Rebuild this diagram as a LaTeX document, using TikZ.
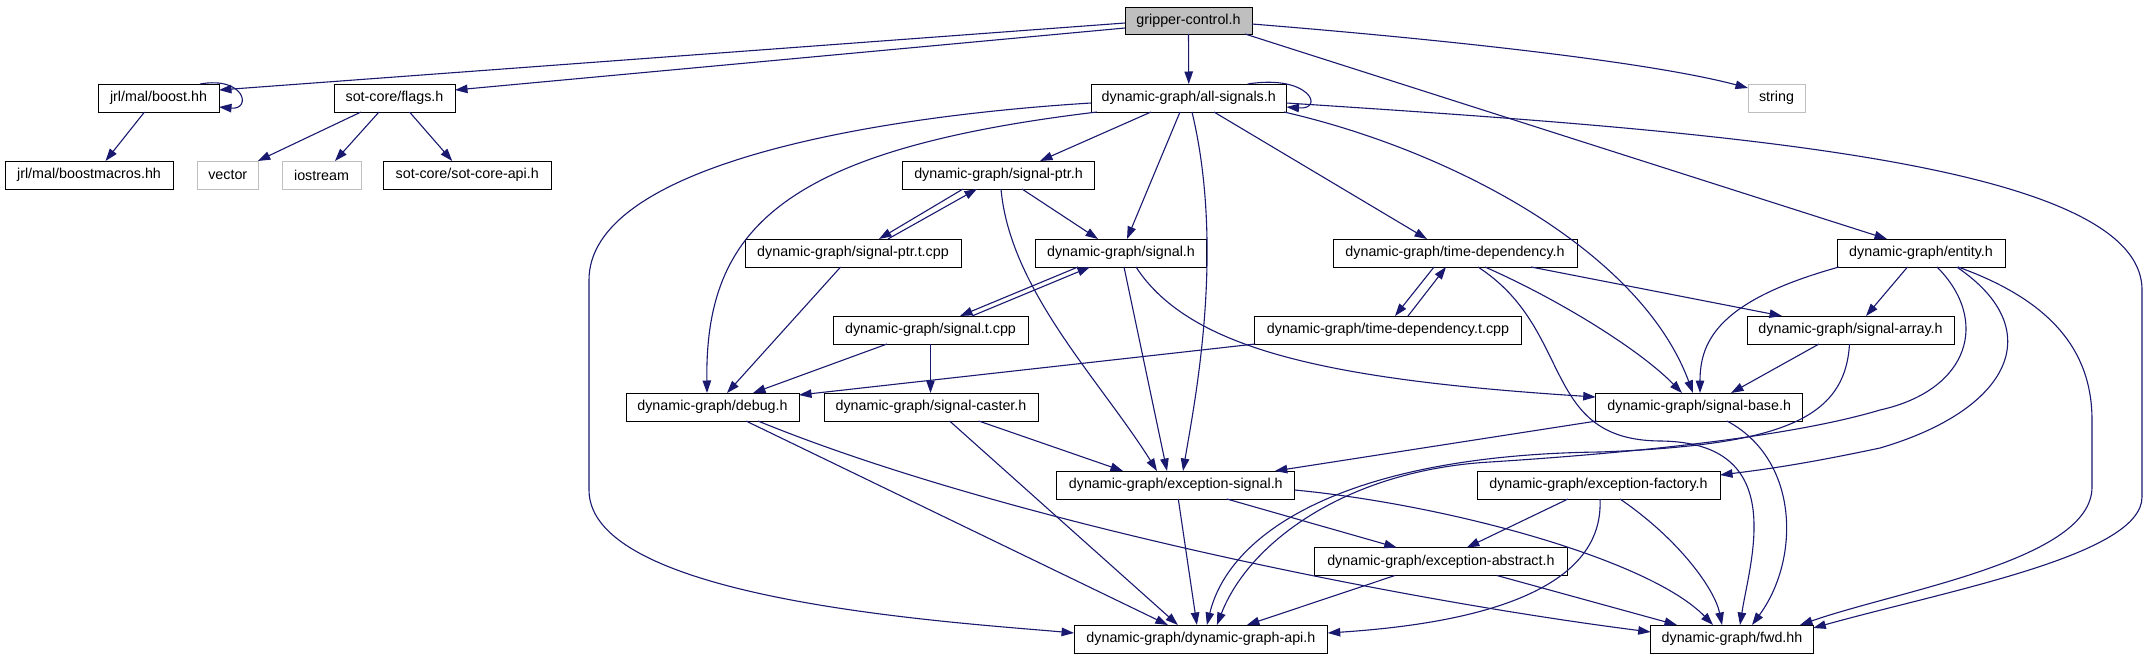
\documentclass[tikz,border=0pt]{standalone}
\usepackage{fontspec}
\setmainfont{Liberation Sans}
\usetikzlibrary{arrows.meta}
\definecolor{edgec}{HTML}{191970}
\definecolor{gfill}{HTML}{BFBFBF}
\begin{document}
\begin{tikzpicture}[x=1pt,y=-1pt,
  box/.style={draw=black, line width=1pt, rectangle, inner sep=0pt, outer sep=0pt, minimum height=28pt, font=\fontsize{14.3}{17}\selectfont},
  gbox/.style={box, draw=gfill},
  edge/.style={draw=edgec, line width=1.1pt, -{Triangle[length=12.5pt,width=8.5pt]}}]
\useasboundingbox (0,0) rectangle (2148,659);
\fill[white] (0,0) rectangle (2148,659);
% nodes
\node[box, fill=gfill, minimum width=127pt, minimum height=27pt] (gc) at (1188.5,20.5) {gripper-control.h};
\node[box, minimum width=121pt] (boost) at (158.5,98) {jrl/mal/boost.hh};
\node[box, minimum width=121pt] (flags) at (394.5,98) {sot-core/flags.h};
\node[box, minimum width=195.5pt] (as) at (1188.75,98) {dynamic-graph/all-signals.h};
\node[gbox, minimum width=57pt] (string) at (1776.5,98) {string};
\node[box, minimum width=168pt] (boostmacros) at (89,175) {jrl/mal/boostmacros.hh};
\node[gbox, minimum width=61.5pt] (vector) at (227.75,175) {vector};
\node[gbox, minimum width=79pt] (iostream) at (321.5,175) {iostream};
\node[box, minimum width=168.5pt] (sotapi) at (467.25,175) {sot-core/sot-core-api.h};
\node[box, minimum width=192pt] (sigptr) at (998.5,175) {dynamic-graph/signal-ptr.h};
\node[box, minimum width=216pt] (sigptrt) at (853,253) {dynamic-graph/signal-ptr.t.cpp};
\node[box, minimum width=171pt] (signal) at (1121,253) {dynamic-graph/signal.h};
\node[box, minimum width=244pt] (timedep) at (1455,253) {dynamic-graph/time-dependency.h};
\node[box, minimum width=168pt] (entity) at (1921,253) {dynamic-graph/entity.h};
\node[box, minimum width=195pt] (signalt) at (930.5,330) {dynamic-graph/signal.t.cpp};
\node[box, minimum width=267.5pt] (timedept) at (1388,330) {dynamic-graph/time-dependency.t.cpp};
\node[box, minimum width=207pt] (sigarray) at (1850.5,330) {dynamic-graph/signal-array.h};
\node[box, minimum width=173pt] (debug) at (712.5,407) {dynamic-graph/debug.h};
\node[box, minimum width=214pt] (caster) at (931,407) {dynamic-graph/signal-caster.h};
\node[box, minimum width=207pt] (sigbase) at (1699.2,407) {dynamic-graph/signal-base.h};
\node[box, minimum width=238pt] (excsig) at (1175.8,485) {dynamic-graph/exception-signal.h};
\node[box, minimum width=243pt] (excfac) at (1598.5,485) {dynamic-graph/exception-factory.h};
\node[box, minimum width=253.7pt] (excabs) at (1440.9,561.5) {dynamic-graph/exception-abstract.h};
\node[box, minimum width=253.7pt] (api) at (1200.9,639) {dynamic-graph/dynamic-graph-api.h};
\node[box, minimum width=162.6pt] (fwd) at (1732,639) {dynamic-graph/fwd.hh};
% edges from gripper-control.h
\draw[edge] ([yshift=-2.5pt]gc.west) -- ([yshift=8pt]boost.east);
\draw[edge] ([yshift=-7.5pt]gc.west) -- ([yshift=8pt]flags.east);
\draw[edge] (gc.south) -- (as.north);
\draw[edge] ([yshift=-3.5pt]gc.east) .. controls (1450,40) and (1650,62) .. ([yshift=10pt]string.west);
\draw[edge] ([xshift=56.5pt]gc.south) -- ([xshift=-34pt]entity.north);
% boost
\draw[edge] ([xshift=41.5pt]boost.north) .. controls (245,76) and (252,110) .. ([yshift=-9pt]boost.east);
\draw[edge] ([xshift=-14pt]boost.south) -- ([xshift=16.5pt]boostmacros.north);
% flags
\draw[edge] ([xshift=-33.5pt]flags.south) -- ([xshift=30pt]vector.north);
\draw[edge] ([xshift=-15.5pt]flags.south) -- ([xshift=13.5pt]iostream.north);
\draw[edge] ([xshift=15pt]flags.south) -- ([xshift=-15pt]sotapi.north);
% all-signals
\draw[edge] ([xshift=59pt]as.north) .. controls (1310,74) and (1325,110) .. ([yshift=-9pt]as.east);
\draw[edge] ([xshift=-37.75pt]as.south) -- ([xshift=41.5pt]sigptr.north);
\draw[edge] ([xshift=-8.75pt]as.south) -- ([xshift=6pt]signal.north);
\draw[edge] ([xshift=3.25pt]as.south) .. controls (1225,250) and (1195,400) .. ([xshift=7.2pt]excsig.north);
\draw[edge] ([xshift=25.25pt]as.south) -- ([xshift=-28pt]timedep.north);
\draw[edge] ([xshift=95.25pt]as.south) .. controls (1450,150) and (1640,250) .. ([xshift=-6.2pt]sigbase.north);
\draw[edge] ([yshift=-5pt]as.east) .. controls (1700,130) and (2142,160) .. (2142,290) -- (2142,497) .. controls (2142,555) and (1950,590) .. ([yshift=11pt]fwd.east);
\draw[edge] ([xshift=-91.75pt]as.south) .. controls (780,150) and (705,230) .. ([xshift=-5.5pt]debug.north);
\draw[edge] ([yshift=-5pt]as.west) .. controls (850,118) and (589,170) .. (589,280) -- (589,490) .. controls (589,600) and (950,622) .. ([yshift=6pt]api.west);
% signal-ptr
\draw[edge] ([xshift=-35.5pt]sigptr.south) -- ([xshift=26pt]sigptrt.north);
\draw[edge] ([xshift=35pt]sigptrt.north) -- ([xshift=-21.5pt]sigptr.south);
\draw[edge] ([xshift=23.5pt]sigptr.south) -- ([xshift=-23pt]signal.north);
\draw[edge] ([xshift=2.5pt]sigptr.south) .. controls (1010,290) and (1100,380) .. ([xshift=-18.8pt]excsig.north);
\draw[edge] ([xshift=-12.4pt]sigptrt.south) -- ([xshift=14.5pt]debug.north);
% signal
\draw[edge] ([xshift=-43pt]signal.south) -- ([xshift=29.5pt]signalt.north);
\draw[edge] ([xshift=41.5pt]signalt.north) -- ([xshift=-31pt]signal.south);
\draw[edge] ([xshift=3pt]signal.south) -- ([xshift=-8.8pt]excsig.north);
\draw[edge] ([xshift=15pt]signal.south) .. controls (1190,350) and (1330,380) .. ([yshift=10pt]sigbase.west);
\draw[edge] ([xshift=-43.5pt]signalt.south) -- ([xshift=40.5pt]debug.north);
\draw[edge] (signalt.south) -- ([xshift=-0.5pt]caster.north);
% time-dependency
\draw[edge] ([xshift=-21pt]timedep.south) -- ([xshift=7pt]timedept.north);
\draw[edge] ([xshift=20pt]timedept.north) -- ([xshift=-9pt]timedep.south);
\draw[edge] ([xshift=1pt]timedept.south west) -- ([yshift=-2pt]debug.north east);
\draw[edge] ([xshift=76pt]timedep.south) -- ([xshift=-68.5pt]sigarray.north);
\draw[edge] ([xshift=30pt]timedep.south) .. controls (1560,300) and (1640,350) .. ([xshift=-17.2pt]sigbase.north);
\draw[edge] ([xshift=23pt]timedep.south) .. controls (1575,330) and (1540,440) .. (1660,441) .. controls (1790,442) and (1750,560) .. ([xshift=8pt]fwd.north);
% entity
\draw[edge] ([xshift=-13.5pt]entity.south) -- ([xshift=15.5pt]sigarray.north);
\draw[edge] ([xshift=2pt]entity.south west) .. controls (1720,300) and (1700,340) .. ([xshift=0.8pt]sigbase.north);
\draw[edge] ([xshift=16pt]entity.south) .. controls (1990,320) and (1970,390) .. (1880,410) .. controls (1780,440) and (1600,455) .. (1490,462) .. controls (1350,470) and (1250,540) .. ([xshift=16pt]api.north);
\draw[edge] ([xshift=35.7pt]entity.south) .. controls (2050,330) and (2010,410) .. (1880,448) .. controls (1800,465) and (1760,470) .. ([yshift=10pt]excfac.east);
\draw[edge] ([xshift=37pt]entity.south) .. controls (2050,300) and (2092,350) .. (2092,420) -- (2092,487) .. controls (2092,560) and (1900,590) .. ([xshift=68pt]fwd.north);
% signal-array
\draw[edge] ([xshift=-1pt]sigarray.south) .. controls (1845,420) and (1780,445) .. (1600,452) .. controls (1350,455) and (1230,530) .. ([xshift=6pt]api.north);
\draw[edge] ([xshift=-31.5pt]sigarray.south) -- ([xshift=31.8pt]sigbase.north);
% debug, caster
\draw[edge] ([xshift=33.5pt]debug.south) -- ([xshift=-33pt]api.north);
\draw[edge] ([xshift=45.5pt]debug.south) .. controls (1000,520) and (1400,600) .. ([yshift=7pt]fwd.west);
\draw[edge] ([xshift=18.6pt]caster.south) -- ([xshift=-23pt]api.north);
\draw[edge] ([xshift=47.7pt]caster.south) -- ([xshift=-52.8pt]excsig.north);
% signal-base
\draw[edge] ([xshift=1pt]sigbase.south west) -- ([xshift=99pt]excsig.north);
\draw[edge] ([xshift=27.8pt]sigbase.south) .. controls (1800,460) and (1800,560) .. ([xshift=20pt]fwd.north);
% exception-signal
\draw[edge] ([xshift=2.5pt]excsig.south) -- ([xshift=-4pt]api.north);
\draw[edge] ([xshift=51pt]excsig.south) -- ([xshift=-44.2pt]excabs.north);
\draw[edge] ([yshift=-5pt]excsig.east) .. controls (1450,505) and (1650,560) .. ([xshift=-19pt]fwd.north);
% exception-factory
\draw[edge] ([xshift=-30.5pt]excfac.south) -- ([xshift=26pt]excabs.north);
\draw[edge] ([xshift=1.5pt]excfac.south) .. controls (1605,600) and (1450,625) .. ([yshift=6pt]api.east);
\draw[edge] ([xshift=21.5pt]excfac.south) .. controls (1680,540) and (1715,590) .. ([xshift=-10pt]fwd.north);
% exception-abstract
\draw[edge] ([xshift=-46pt]excabs.south) -- ([xshift=46pt]api.north);
\draw[edge] ([xshift=56pt]excabs.south) -- ([xshift=-55pt]fwd.north);
\end{tikzpicture}
\end{document}
